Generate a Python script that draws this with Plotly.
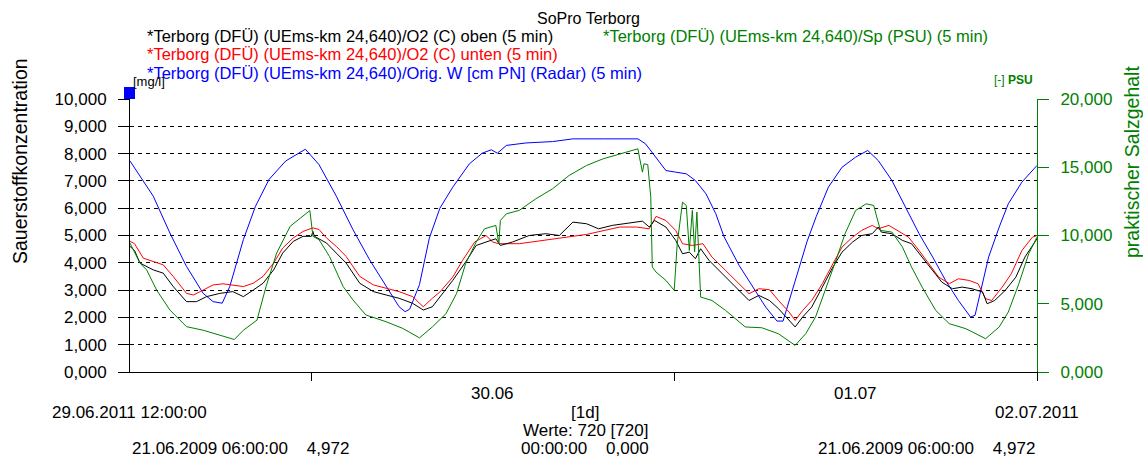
import pandas as pd
import plotly.graph_objects as go

# ---------------- data (hours after 29.06.2011 12:00) ----------------
START = "2011-06-29 12:00:00"
END = "2011-07-02 00:00:00"

h_black = [0, 0.3, 0.66, 1.54, 2.2, 2.86, 3.74, 4.4, 5.06, 5.94, 6.8, 7.5, 8.15, 8.8, 9.5,
           10.1, 10.8, 11.45, 12.0, 12.1, 12.2, 13.0, 13.65, 14.3, 15.2, 16.1, 16.95, 17.8, 18.7, 19.4,
           20.0, 20.5, 21.35, 22.2, 22.9, 23.55, 24.2, 24.5, 25.3, 26.4, 27.5, 28.4, 29.3, 30.2, 31.0,
           31.9, 32.8, 33.9, 34.35, 34.7, 35.45, 36.1, 36.55, 37.0, 37.4, 37.75, 38.3, 39.2, 39.6, 40.3,
           40.95, 41.6, 42.3, 42.9, 43.6, 44.0, 44.5, 45.1, 45.8, 46.5, 47.1, 47.8, 48.4, 49.1, 49.5,
           49.7, 50.4, 51.1, 51.7, 52.4, 53.1, 53.7, 54.4, 55.05, 55.7, 56.4, 56.7, 57.2, 57.9, 58.6,
           59.2, 60.0]
o2_oben = [4600, 4450, 3990, 3740, 3620, 3130, 2577, 2577, 2760, 2880, 2945, 2760, 3000, 3250, 3740,
           4355, 4785, 4970, 4970, 5150, 4970, 4725, 4355, 3990, 3250, 2945, 2820, 2700, 2515, 2270,
           2390, 2745, 3355, 4025, 4635, 4760, 4880, 4635, 4760, 5000, 5065, 5000, 5490, 5430, 5245,
           5370, 5430, 5525, 5310, 5550, 5310, 4820, 4330, 4390, 4150, 4515, 4090, 3600, 3355, 2990,
           2620, 2805, 2620, 2320, 1890, 1650, 2015, 2380, 3110, 3845, 4390, 4760, 5000, 5065, 5310,
           5125, 5065, 4820, 4700, 4210, 3720, 3295, 3050, 3110, 3050, 2930, 2500, 2620, 2990, 3475,
           4210, 4880]

h_red = [0, 0.3, 0.88, 1.54, 2.2, 2.86, 3.74, 4.2, 4.84, 5.5, 6.16, 6.8, 7.5, 8.15, 8.8,
         9.5, 10.1, 10.8, 11.45, 12.1, 12.5, 13.0, 13.65, 14.3, 15.2, 16.1, 16.95, 17.8, 18.7, 19.4,
         20.0, 20.5, 21.35, 22.0, 22.8, 23.55, 24.0, 24.4, 25.75, 27.95, 30.2, 32.4, 33.5, 34.35, 34.8,
         35.45, 36.1, 36.55, 37.2, 37.9, 38.5, 39.4, 40.3, 40.95, 41.6, 42.3, 42.9, 43.6, 44.0, 44.5,
         45.1, 45.8, 46.5, 47.1, 47.8, 48.4, 49.1, 49.5, 50.2, 50.9, 51.5, 52.2, 52.85, 53.5, 54.2,
         54.8, 55.5, 56.1, 56.6, 57.0, 57.7, 58.3, 59.0, 59.7, 60.0]
o2_unten = [4785, 4700, 4170, 4050, 3925, 3500, 2880, 2820, 3000, 3190, 3230, 3190, 3130, 3250, 3500,
            3990, 4540, 4910, 5150, 5280, 5220, 4910, 4600, 4230, 3500, 3190, 3070, 2945, 2760, 2390,
            2700, 2930, 3475, 4090, 4760, 5000, 4760, 4700, 4700, 4880, 5040, 5310, 5310, 5245, 5700,
            5550, 5185, 4700, 4635, 4700, 4210, 3720, 3235, 2870, 3050, 3015, 2620, 2195, 1890, 2255,
            2620, 3235, 3965, 4575, 4940, 5185, 5370, 5245, 5370, 5125, 4940, 4450, 3965, 3475, 3235,
            3415, 3355, 3235, 2685, 2620, 3110, 3600, 4450, 4940, 5000]

h_blue = [0, 1.54, 2.64, 3.74, 4.84, 5.5, 6.1, 6.6, 7.5, 8.3, 9.2, 10.3, 11.6, 12.5, 13.65,
          14.75, 15.85, 16.95, 17.8, 18.2, 18.5, 19.15, 19.8, 20.5, 21.35, 22.45, 23.3, 23.9, 24.3, 24.9,
          26.2, 27.95, 29.3, 31.3, 33.6, 34.1, 34.6, 35.45, 36.1, 36.8, 37.4, 38.1, 38.75, 39.3, 40.3,
          41.2, 42.05, 42.8, 43.2, 43.6, 44.2, 44.8, 45.4, 46.2, 47.1, 48.0, 48.8, 49.5, 50.4, 51.3,
          52.2, 53.1, 53.95, 54.8, 55.6, 55.9, 56.4, 56.8, 57.5, 58.1, 59.0, 60.0]
wasserstand = [7730, 6440, 5090, 3865, 2880, 2577, 2520, 3130, 4850, 6070, 7055, 7730, 8160, 7600, 6440,
               5215, 4110, 3130, 2390, 2210, 2300, 3200, 4900, 6000, 6770, 7625, 8015, 8140, 8015, 8300,
               8390, 8440, 8540, 8540, 8540, 8360, 7990, 7380, 7320, 7260, 7015, 6530, 5800, 4950, 3900,
               3110, 2380, 1865, 1865, 2600, 3700, 4800, 5700, 6770, 7500, 7870, 8115, 7745, 7015, 6040,
               5065, 4210, 3355, 2620, 2015, 2075, 3235, 4210, 5310, 6160, 6955, 7565]

h_green = [0, 0.66, 1.1, 1.76, 2.64, 3.74, 4.84, 5.94, 6.9, 7.5, 8.4, 9.0, 9.7, 10.6, 11.45,
           11.9, 12.1, 12.5, 13.2, 14.1, 14.75, 15.6, 16.95, 18.05, 19.15, 20.0, 20.9, 21.6, 22.2, 22.9,
           23.45, 24.2, 24.4, 24.5, 24.9, 25.75, 26.85, 27.95, 29.05, 30.2, 31.3, 32.4, 33.25, 33.6, 33.7,
           33.9, 34.0, 34.25, 34.45, 34.55, 34.8, 35.45, 36.0, 36.2, 36.55, 36.8, 37.0, 37.2, 37.35, 37.5,
           37.75, 38.5, 39.4, 40.7, 41.8, 42.9, 44.0, 44.7, 45.35, 46.0, 46.7, 47.3, 48.0, 48.7, 49.2,
           49.4, 49.65, 50.4, 51.1, 51.7, 52.4, 53.3, 54.2, 55.3, 56.6, 57.5, 58.1, 58.8, 59.45, 60.0]
salz_psu = [9440, 7980, 7480, 6000, 4540, 3320, 3060, 2700, 2380, 3060, 3800, 6260, 8710, 10680, 11410,
            11830, 9940, 9700, 8460, 6260, 5280, 4180, 3680, 3190, 2500, 3300, 4270, 5740, 7930, 9520,
            10490, 10740, 9400, 11100, 11590, 11840, 12690, 13420, 14400, 15130, 15620, 15980, 16230, 16350, 15740,
            14640, 15250, 15200, 12810, 7690, 7320, 6710, 5980, 9400, 12440, 12200, 8900, 11840, 8800, 11710,
            5490, 5240, 4510, 3300, 3240, 2800, 1950, 2800, 4030, 5980, 8180, 10130, 11830, 12320, 12200,
            11350, 10370, 10250, 9150, 7690, 6220, 4510, 3540, 3170, 2440, 3300, 4390, 6470, 8660, 9880]

left_ticks = [0, 1000, 2000, 3000, 4000, 5000, 6000, 7000, 8000, 9000, 10000]
left_labels = ["0,000", "1,000", "2,000", "3,000", "4,000", "5,000", "6,000", "7,000", "8,000", "9,000", "10,000"]
right_ticks = [0, 5000, 10000, 15000, 20000]
right_labels = ["0,000", "5,000", "10,000", "15,000", "20,000"]
day_ticks = ["2011-06-30 00:00:00", "2011-07-01 00:00:00", "2011-07-02 00:00:00"]
day_labels = ["30.06", "01.07"]
day_label_pos = ["2011-06-30 12:00:00", "2011-07-01 12:00:00"]

legend_black = "*Terborg (DFÜ) (UEms-km 24,640)/O2 (C) oben (5 min)"
legend_red = "*Terborg (DFÜ) (UEms-km 24,640)/O2 (C) unten (5 min)"
legend_blue = "*Terborg (DFÜ) (UEms-km 24,640)/Orig. W [cm PN] (Radar) (5 min)"
legend_green = "*Terborg (DFÜ) (UEms-km 24,640)/Sp (PSU) (5 min)"

# ---------------- helpers ----------------
t0 = pd.Timestamp(START)


def times(hours):
    return [t0 + pd.Timedelta(hours=h) for h in hours]


X0, X1, YB, YT = 130, 1037, 372, 99


def px(x):
    return (x - X0) / (X1 - X0)


def py(y):
    return (YB - y) / (YB - YT)


FONT = "Liberation Sans, Arial, sans-serif"
GREEN = "#008000"

fig = go.Figure()
fig.add_trace(go.Scatter(x=times(h_green), y=salz_psu, yaxis="y2", mode="lines",
                         line=dict(color=GREEN, width=1), name=legend_green))
fig.add_trace(go.Scatter(x=times(h_blue), y=wasserstand, mode="lines",
                         line=dict(color="#0000ff", width=1), name=legend_blue))
fig.add_trace(go.Scatter(x=times(h_red), y=o2_unten, mode="lines",
                         line=dict(color="#ff0000", width=1), name=legend_red))
fig.add_trace(go.Scatter(x=times(h_black), y=o2_oben, mode="lines",
                         line=dict(color="#000000", width=1), name=legend_black))

ann = []


def text(x, y, s, size=17, color="#000000", xanchor="left", angle=0):
    ann.append(dict(x=px(x), y=py(y), xref="paper", yref="paper", text=s, showarrow=False,
                    xanchor=xanchor, yanchor="middle", textangle=angle,
                    font=dict(family=FONT, size=size, color=color)))


text(588, 19, "SoPro Terborg", size=16, xanchor="center")
text(145, 36, legend_black, size=16.5)
text(145, 54, legend_red, size=16.5, color="#ff0000")
text(145, 73, legend_blue, size=16.5, color="#0000ff")
text(601, 36, legend_green, size=16.5, color=GREEN)
text(131, 81, "[mg/l]", size=13)
text(1035, 80, "[-] <b>PSU</b>", size=12, color=GREEN, xanchor="right")
text(20, 161, "Sauerstoffkonzentration", size=19.5, xanchor="center", angle=-90)
text(1132, 162, "praktischer Salzgehalt", size=19.5, color=GREEN, xanchor="center", angle=-90)

# day labels at noon positions
for lab, pos in zip(day_labels, day_label_pos):
    ann.append(dict(x=pos, y=py(393), xref="x", yref="paper", text=lab, showarrow=False,
                    xanchor="center", yanchor="middle", font=dict(family=FONT, size=17, color="#000")))

nb = "\u00a0"
text(129, 412, "29.06.2011 12:00:00", xanchor="center")
text(585, 412, "[1d]", xanchor="center")
text(1037, 412, "02.07.2011", xanchor="center")
text(585, 430, "Werte: 720 [720]", xanchor="center")
text(130, 448, "21.06.2009 06:00:00" + nb * 4 + "4,972")
text(585, 448, "00:00:00" + nb * 4 + "0,000", xanchor="center")
text(1037, 448, "21.06.2009 06:00:00" + nb * 4 + "4,972", xanchor="right")

fig.update_layout(
    width=1143, height=457,
    margin=dict(l=X0, r=1143 - X1, t=YT, b=457 - YB, pad=0),
    paper_bgcolor="white", plot_bgcolor="white",
    showlegend=False,
    annotations=ann,
    shapes=[dict(type="rect", xref="paper", yref="paper", x0=px(124), x1=px(135), y0=py(99), y1=py(87),
                 fillcolor="#0000ff", line=dict(width=0))],
    xaxis=dict(type="date", range=[START, END], tickvals=day_ticks, showticklabels=False,
               ticks="outside", ticklen=8, tickcolor="#000", showgrid=False, zeroline=False,
               showline=True, linecolor="#000", linewidth=1),
    yaxis=dict(range=[0, 10000], tickvals=left_ticks, ticktext=left_labels, ticks="outside", ticklen=11,
               tickcolor="#000", showline=True, linecolor="#000", linewidth=1, zeroline=False,
               showgrid=True, gridcolor="#000", gridwidth=1, griddash="4px,4px",
               tickfont=dict(family=FONT, size=17, color="#000"), ticklabelstandoff=8),
    yaxis2=dict(range=[0, 20000], overlaying="y", side="right", tickvals=right_ticks, ticktext=right_labels,
                ticks="outside", ticklen=11, tickcolor=GREEN, showline=True, linecolor=GREEN, linewidth=1,
                zeroline=False, showgrid=False,
                tickfont=dict(family=FONT, size=17, color=GREEN), ticklabelstandoff=8),
)

fig.write_html("out.html")
